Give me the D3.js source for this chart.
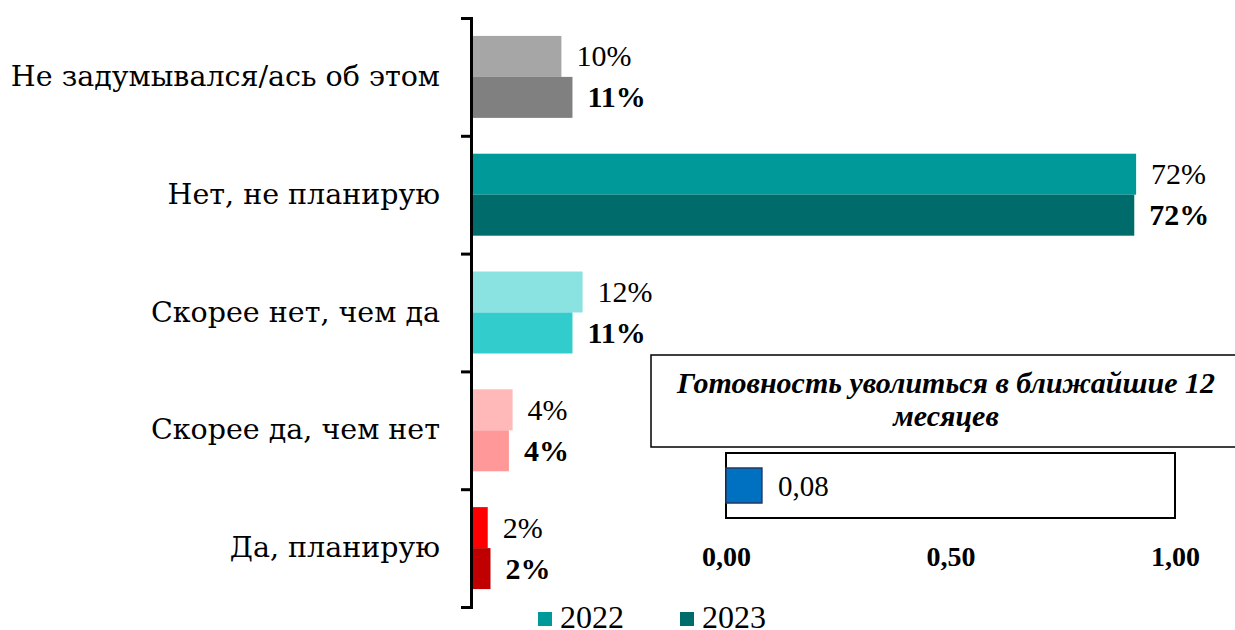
<!DOCTYPE html>
<html>
<head>
<meta charset="utf-8">
<script src="https://cdn.jsdelivr.net/npm/d3@7"></script>
<style>
  body { margin: 0; background: #fff; }
</style>
</head>
<body>
<div id="chart"><svg></svg></div>
<script>
// Categories, top to bottom
const categories = [
  'Не задумывался/ась об этом',
  'Нет, не планирую',
  'Скорее нет, чем да',
  'Скорее да, чем нет',
  'Да, планирую'
];
const years = ['2022', '2023'];
const values2022 = [0.096, 0.72, 0.119, 0.043, 0.016];
const values2023 = [0.108, 0.718, 0.108, 0.039, 0.019];
const colors2022 = ['#a6a6a6', '#009999', '#8be3e1', '#ffb9b9', '#ff0000'];
const colors2023 = ['#808080', '#006b6b', '#33cccc', '#ff9999', '#c00000'];
const legendColors = ['#009999', '#006b6b'];

// Inset chart
const insetTitle = ['Готовность уволиться в ближайшие 12', 'месяцев'];
const insetValue = [0.08];
const insetTicks = [0, 0.5, 1];

const width = 1235, height = 630;
const SERIF = '"Liberation Serif", "Times New Roman", serif';
const WIDE = '"DejaVu Serif", serif';
const svg = d3.select('#chart svg')
  .attr('width', width)
  .attr('height', height)
  .attr('font-family', SERIF);

const pct = d3.format('.0%');
const comma = d => d3.format('.2f')(d).replace('.', ',');

// Main chart scales
const x = d3.scaleLinear().domain([0, 0.8]).range([473, 473 + 0.8 * 921]);
const y = d3.scaleBand().domain(categories).range([18, 607]).padding(0);
const ySub = d3.scaleBand().domain(years).range([0, y.bandwidth()]).paddingInner(0).paddingOuter(0.437);

const rows = categories.map((c, i) => ({
  cat: c,
  bars: [
    { year: '2022', value: values2022[i], color: colors2022[i] },
    { year: '2023', value: values2023[i], color: colors2023[i] }
  ]
}));

const groups = svg.selectAll('.row')
  .data(rows)
  .join('g')
  .attr('class', 'row')
  .attr('transform', d => `translate(0,${y(d.cat)})`);

groups.selectAll('rect')
  .data(d => d.bars)
  .join('rect')
  .attr('x', x(0))
  .attr('y', d => ySub(d.year))
  .attr('width', d => x(d.value) - x(0))
  .attr('height', ySub.bandwidth())
  .attr('fill', d => d.color);

groups.selectAll('.val')
  .data(d => d.bars)
  .join('text')
  .attr('class', 'val')
  .attr('x', d => x(d.value) + 15)
  .attr('y', d => ySub(d.year) + ySub.bandwidth() / 2 + 10)
  .attr('font-size', 30)
  .attr('font-weight', d => d.year === '2023' ? 'bold' : 'normal')
  .attr('fill', '#000')
  .text(d => pct(d.value));

// Category labels
svg.selectAll('.cat')
  .data(categories)
  .join('text')
  .attr('class', 'cat')
  .attr('x', 440)
  .attr('y', d => y(d) + y.bandwidth() / 2 + 9)
  .attr('text-anchor', 'end')
  .attr('font-family', WIDE)
  .attr('font-size', 28.5)
  .attr('fill', '#000')
  .text(d => d);

// Axis with ticks between categories
const yEdges = d3.scaleLinear().domain([0, categories.length]).range([18, 607]);
const yAxis = d3.axisLeft(yEdges).tickValues(d3.range(categories.length + 1)).tickSize(10).tickFormat('');
svg.append('g')
  .attr('transform', `translate(471,0)`)
  .call(yAxis)
  .call(g => g.selectAll('line, path').attr('stroke', '#000').attr('stroke-width', 3));

// Legend
const legend = svg.append('g').selectAll('g')
  .data(years)
  .join('g')
  .attr('transform', (d, i) => `translate(${538 + i * 142},0)`);
legend.append('rect')
  .attr('x', 0).attr('y', 612).attr('width', 14).attr('height', 14)
  .attr('fill', (d, i) => legendColors[i]);
legend.append('text')
  .attr('x', 22).attr('y', 628)
  .attr('font-size', 32)
  .text(d => d);

// Inset: title box
svg.append('rect')
  .attr('x', 651).attr('y', 355).attr('width', 600).attr('height', 92)
  .attr('fill', '#fff').attr('stroke', '#000').attr('stroke-width', 1.5);
svg.append('g').selectAll('text')
  .data(insetTitle)
  .join('text')
  .attr('x', 946)
  .attr('y', (d, i) => 393 + i * 33)
  .attr('text-anchor', 'middle')
  .attr('font-size', 30)
  .attr('font-weight', 'bold')
  .attr('font-style', 'italic')
  .text(d => d);

// Inset: small bar chart
const xi = d3.scaleLinear().domain([0, 1]).range([726, 1175]);
svg.append('rect')
  .attr('x', xi(0)).attr('y', 453).attr('width', xi(1) - xi(0)).attr('height', 65)
  .attr('fill', '#fff').attr('stroke', '#000').attr('stroke-width', 2);
svg.selectAll('.ibar')
  .data(insetValue)
  .join('rect')
  .attr('class', 'ibar')
  .attr('x', xi(0)).attr('y', 468)
  .attr('width', d => xi(d) - xi(0)).attr('height', 35)
  .attr('fill', '#0070c0').attr('stroke', '#203864').attr('stroke-width', 1.5);
svg.selectAll('.ival')
  .data(insetValue)
  .join('text')
  .attr('class', 'ival')
  .attr('x', d => xi(d) + 16).attr('y', 496)
  .attr('font-size', 29)
  .text(d => comma(d));

const xiAxis = d3.axisBottom(xi).tickValues(insetTicks).tickSize(0).tickPadding(0).tickFormat(comma);
svg.append('g')
  .attr('transform', 'translate(0,545)')
  .call(xiAxis)
  .attr('font-family', SERIF)
  .call(g => g.select('.domain').remove())
  .call(g => g.selectAll('text')
    .attr('dy', '0.75em')
    .attr('font-size', 28)
    .attr('font-weight', 'bold')
    .attr('fill', '#000'));
</script>
</body>
</html>
